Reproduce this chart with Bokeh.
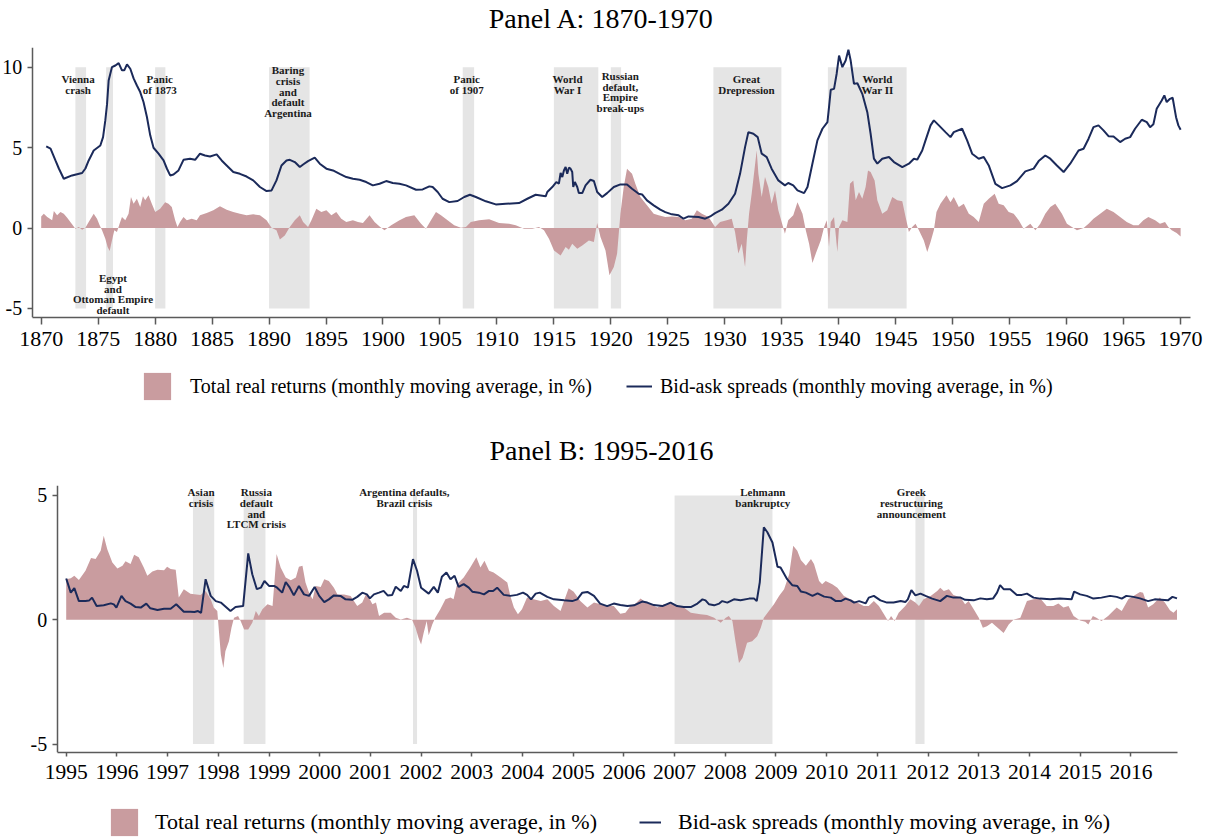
from bokeh.plotting import figure
from bokeh.models import Range1d, FixedTicker, Legend, LegendItem, Label
from bokeh.layouts import column
from bokeh.embed import file_html
from bokeh.resources import INLINE

# ---------------- DATA ----------------
# Panel A: 1870-1970
a_spread_year = [
    1870.44, 1870.82, 1871.25, 1871.55, 1871.98, 1872.71, 1873.59, 1873.88, 1874.17, 1874.61,
    1875.19, 1875.43, 1875.63, 1875.78, 1875.92, 1876.21, 1876.51, 1876.80, 1877.09, 1877.29,
    1877.53, 1877.82, 1878.11, 1878.40, 1878.69, 1878.98, 1879.28, 1879.57, 1879.86, 1880.30,
    1880.74, 1881.03, 1881.32, 1881.61, 1882.05, 1882.49, 1883.07, 1883.51, 1883.94, 1884.38,
    1884.82, 1885.40, 1885.84, 1886.28, 1886.86, 1887.44, 1888.03, 1888.61, 1889.20, 1889.78,
    1890.22, 1890.65, 1891.09, 1891.53, 1891.82, 1892.26, 1892.70, 1892.99, 1893.42, 1894.01,
    1894.45, 1895.03, 1895.61, 1896.20, 1896.78, 1897.36, 1897.95, 1898.53, 1899.11, 1899.70,
    1900.28, 1900.86, 1901.44, 1902.02, 1902.90, 1903.48, 1904.07, 1904.36, 1904.80, 1905.23,
    1905.82, 1906.55, 1907.13, 1907.63, 1908.15, 1909.03, 1909.90, 1910.78, 1911.94, 1912.67,
    1913.40, 1914.28, 1914.42, 1914.86, 1915.21, 1915.44, 1915.59, 1915.74, 1915.88, 1916.03,
    1916.17, 1916.32, 1916.46, 1916.61, 1916.70, 1916.84, 1917.05, 1917.19, 1917.49, 1917.78,
    1918.21, 1918.51, 1918.80, 1919.24, 1919.67, 1920.26, 1920.84, 1921.42, 1921.86, 1922.44,
    1922.74, 1923.17, 1923.76, 1924.34, 1924.78, 1925.36, 1925.95, 1926.38, 1926.82, 1927.70,
    1928.28, 1928.72, 1929.15, 1929.74, 1930.32, 1930.90, 1931.34, 1931.78, 1932.07, 1932.51,
    1932.89, 1933.24, 1933.68, 1934.11, 1934.70, 1935.28, 1935.57, 1936.01, 1936.38, 1936.96,
    1937.26, 1937.69, 1938.13, 1938.57, 1939.01, 1939.15, 1939.30, 1939.59, 1939.82, 1940.03,
    1940.32, 1940.61, 1940.85, 1941.05, 1941.34, 1941.64, 1942.07, 1942.51, 1942.80, 1943.09,
    1943.39, 1943.82, 1944.41, 1944.85, 1945.58, 1946.16, 1946.60, 1946.89, 1947.33, 1947.62,
    1948.06, 1948.35, 1948.79, 1949.37, 1949.81, 1950.10, 1950.83, 1951.27, 1951.71, 1952.29,
    1952.73, 1953.17, 1953.75, 1954.34, 1955.07, 1955.65, 1956.38, 1957.11, 1957.55, 1958.13,
    1958.57, 1959.15, 1959.74, 1960.32, 1961.05, 1961.49, 1961.93, 1962.36, 1962.80, 1963.24,
    1963.68, 1964.12, 1964.70, 1965.14, 1965.58, 1966.01, 1966.60, 1967.04, 1967.33, 1967.62,
    1967.91, 1968.35, 1968.58, 1968.79, 1969.08, 1969.31, 1969.61, 1969.81, 1970.01]
a_spread = [
    5.07, 4.93, 4.2, 3.7, 3.06, 3.27, 3.42, 3.7, 4.2, 4.82,
    5.13, 5.65, 6.7, 7.7, 9.17, 10.0, 10.1, 10.25, 9.8, 9.8,
    10.17, 9.9, 9.3, 8.86, 8.45, 7.83, 6.9, 5.76, 4.99, 4.62,
    4.2, 3.7, 3.27, 3.33, 3.58, 4.24, 4.31, 4.24, 4.62, 4.51,
    4.45, 4.58, 4.2, 3.89, 3.48, 3.37, 3.2, 2.96, 2.55, 2.3,
    2.34, 2.96, 3.89, 4.2, 4.24, 4.1, 3.79, 3.95, 4.16, 4.37,
    4.0, 3.69, 3.58, 3.37, 3.17, 3.06, 3.0, 2.86, 2.65, 2.75,
    2.92, 2.8, 2.75, 2.65, 2.38, 2.4, 2.59, 2.55, 2.24, 1.82,
    1.61, 1.68, 1.93, 2.07, 1.93, 1.66, 1.47, 1.51, 1.55, 1.82,
    2.07, 1.97, 2.24, 2.55, 2.86, 2.76, 3.42, 3.17, 3.58, 3.79,
    3.37, 3.75, 3.69, 3.48, 2.55, 2.86, 2.55, 2.17, 2.17, 2.65,
    3.0, 2.92, 2.24, 1.93, 2.17, 2.55, 2.71, 2.71, 2.44, 2.13,
    2.09, 1.72, 1.41, 1.14, 0.99, 0.85, 0.79, 0.58, 0.72, 0.68,
    0.58, 0.72, 0.93, 1.14, 1.51, 2.13, 3.37, 5.03, 5.96, 5.86,
    5.65, 4.62, 4.41, 3.69, 2.96, 2.65, 2.8, 2.65, 2.34, 2.17,
    2.55, 4.0, 5.45, 6.17, 6.58, 7.52, 8.59, 8.65, 9.59, 10.72,
    10.0, 10.41, 11.08, 10.41, 8.96, 9.0, 8.34, 7.2, 5.86, 4.31,
    4.0, 4.31, 4.41, 4.1, 3.79, 4.0, 4.31, 4.25, 4.82, 5.45,
    6.38, 6.69, 6.38, 5.96, 5.65, 5.96, 6.17, 5.45, 4.62, 4.31,
    4.41, 3.89, 2.75, 2.48, 2.65, 2.92, 3.52, 3.69, 4.16, 4.51,
    4.31, 3.89, 3.48, 4.0, 4.82, 4.93, 5.55, 6.27, 6.38, 6.07,
    5.71, 5.69, 5.34, 5.55, 5.65, 6.17, 6.73, 6.58, 6.27, 6.45,
    7.41, 7.93, 8.24, 7.83, 8.03, 8.1, 6.89, 6.38, 6.11]

a_ret_year = [
    1870.00, 1870.23, 1870.53, 1870.96, 1871.11, 1871.40, 1871.69, 1871.98, 1872.28, 1872.71,
    1873.00, 1873.30, 1873.59, 1873.88, 1874.17, 1874.61, 1874.90, 1875.13, 1875.34, 1875.63,
    1875.83, 1876.01, 1876.21, 1876.42, 1876.65, 1876.88, 1877.09, 1877.38, 1877.67, 1877.88,
    1878.11, 1878.40, 1878.69, 1878.93, 1879.13, 1879.42, 1879.71, 1880.01, 1880.44, 1880.88,
    1881.17, 1881.46, 1881.76, 1881.96, 1882.19, 1882.49, 1882.78, 1883.21, 1883.65, 1883.94,
    1884.53, 1885.11, 1885.69, 1886.28, 1886.86, 1887.44, 1888.03, 1888.61, 1889.20, 1889.78,
    1890.22, 1890.65, 1890.95, 1891.38, 1891.82, 1892.26, 1892.70, 1892.99, 1893.42, 1893.72,
    1894.15, 1894.59, 1895.03, 1895.47, 1895.90, 1896.34, 1896.78, 1897.36, 1897.80, 1898.24,
    1898.82, 1899.26, 1899.70, 1900.13, 1900.72, 1901.45, 1902.02, 1902.75, 1903.34, 1903.77,
    1904.21, 1904.65, 1905.09, 1905.67, 1906.25, 1906.84, 1907.28, 1907.71, 1908.44, 1909.32,
    1910.19, 1911.07, 1911.65, 1912.38, 1913.11, 1913.69, 1914.13, 1914.57, 1915.01, 1915.59,
    1916.03, 1916.32, 1916.61, 1917.05, 1917.49, 1918.07, 1918.51, 1918.80, 1919.09, 1919.53,
    1919.88, 1920.26, 1920.55, 1920.84, 1921.13, 1921.42, 1921.86, 1922.15, 1922.59, 1923.17,
    1923.76, 1924.19, 1924.78, 1925.36, 1925.95, 1926.53, 1927.11, 1927.55, 1927.99, 1928.57,
    1929.15, 1929.59, 1930.17, 1930.61, 1930.90, 1931.19, 1931.49, 1931.78, 1931.93, 1932.13,
    1932.36, 1932.80, 1932.95, 1933.24, 1933.53, 1933.82, 1934.11, 1934.41, 1934.70, 1934.99,
    1935.28, 1935.57, 1936.01, 1936.38, 1936.82, 1937.11, 1937.40, 1937.69, 1937.99, 1938.42,
    1938.72, 1938.95, 1939.15, 1939.30, 1939.59, 1939.88, 1940.03, 1940.32, 1940.76, 1940.99,
    1941.28, 1941.49, 1941.78, 1942.07, 1942.36, 1942.57, 1942.80, 1943.15, 1943.39, 1943.82,
    1944.26, 1944.70, 1945.14, 1945.58, 1945.87, 1946.16, 1946.45, 1946.74, 1947.04, 1947.47,
    1947.77, 1948.06, 1948.35, 1948.58, 1948.93, 1949.46, 1949.81, 1950.10, 1950.54, 1950.98,
    1951.42, 1951.85, 1952.29, 1952.73, 1953.17, 1953.69, 1954.04, 1954.48, 1954.92, 1955.36,
    1955.80, 1956.23, 1956.82, 1957.26, 1957.69, 1958.13, 1958.57, 1959.01, 1959.59, 1960.03,
    1960.47, 1960.91, 1961.49, 1961.93, 1962.36, 1962.95, 1963.53, 1964.12, 1964.70, 1965.28,
    1965.87, 1966.31, 1966.74, 1967.18, 1967.77, 1968.20, 1968.64, 1968.93, 1969.23, 1969.66,
    1970.01]
a_ret = [
    0.72, 0.89, 0.68, 0.48, 1.06, 0.79, 0.99, 0.89, 0.64, 0.23,
    -0.04, 0.06, -0.1, 0.02, 0.37, 0.89, 0.58, 0.17, -0.14, -0.66,
    -1.18, -1.43, -0.77, -0.14, -0.25, 0.27, 0.68, 0.48, 0.89, 1.93,
    1.51, 1.82, 1.3, 1.97, 1.72, 2.03, 1.51, 0.99, 1.2, 1.61,
    1.51, 1.3, 0.48, 0.06, 0.37, 0.68, 0.48, 0.58, 0.48, 0.79,
    0.93, 1.1, 1.35, 1.14, 0.99, 0.89, 0.79, 0.85, 0.79, 0.48,
    0.02, -0.14, -0.72, -0.46, 0.06, 0.48, 0.79, 0.37, 0.06, 0.48,
    1.2, 0.99, 1.1, 0.79, 0.99, 0.58, 0.37, 0.48, 0.37, 0.31,
    0.79, 0.37, 0.1, -0.14, 0.17, 0.48, 0.68, 0.79, 0.27, -0.04,
    0.48, 0.99, 0.79, 0.48, 0.17, 0.02, 0.06, 0.37, 0.48, 0.54,
    0.31, 0.27, 0.17, -0.04, -0.04, 0.06, -0.14, -0.66, -1.39, -1.7,
    -1.18, -1.35, -0.97, -1.28, -1.08, -0.77, -0.87, 0.31, -0.56, -1.39,
    -2.94, -2.42, -1.59, 0.89, 2.55, 3.69, 3.37, 2.75, 1.93, 1.41,
    0.89, 0.79, 0.68, 0.72, 0.68, 0.48, 0.58, 1.1, 0.89, 0.68,
    0.06, 0.37, 0.48, 0.58, -0.25, -1.59, -0.97, -2.42, -0.77, 0.89,
    2.13, 4.82, 3.37, 1.93, 3.17, 2.55, 1.51, 2.34, 1.1, 0.37,
    -0.35, 0.48, 0.79, 1.61, 0.89, -0.14, -0.97, -2.17, -1.59, -0.77,
    0.06, 0.48, -1.18, 0.37, 0.68, -1.49, 0.06, 0.48, 0.37, 2.75,
    2.96, 1.72, 2.24, 1.82, 2.55, 3.58, 3.48, 2.96, 1.72, 0.89,
    1.1, 1.93, 1.72, 1.66, 0.68, -0.25, 0.06, 0.27, -0.14, -0.77,
    -1.49, -0.87, -0.14, 0.99, 1.51, 2.03, 1.61, 1.93, 1.3, 1.51,
    0.89, 0.68, 0.37, 1.51, 1.82, 2.13, 1.51, 1.41, 0.99, 0.89,
    0.48, -0.04, 0.27, -0.14, 0.27, 0.89, 1.3, 1.51, 0.89, 0.27,
    0.06, -0.14, 0.0, 0.27, 0.58, 0.89, 1.2, 0.99, 0.68, 0.37,
    0.17, 0.17, 0.48, 0.68, 0.48, 0.27, 0.37, 0.06, -0.14, -0.31,
    -0.52]

a_crisis_start = [1873.0, 1875.7, 1880.0, 1890.0, 1907.0, 1915.0, 1920.0, 1929.0, 1939.05]
a_crisis_end = [1873.94, 1876.3, 1880.9, 1893.56, 1908.0, 1918.9, 1920.9, 1934.97, 1945.96]
a_crisis_label = ["Vienna\ncrash", "Egypt\nand\nOttoman Empire\ndefault", "Panic\nof 1873",
                  "Baring\ncrisis\nand\ndefault\nArgentina", "Panic\nof 1907", "World\nWar I",
                  "Russian\ndefault,\nEmpire\nbreak-ups", "Great\nDrepression", "World\nWar II"]
a_label_x = [1873.24, 1876.3, 1880.4, 1891.66, 1907.35, 1916.2, 1920.83, 1931.9, 1943.4]
a_label_y = [9.62, -2.74, 9.62, 10.18, 9.62, 9.62, 9.83, 9.62, 9.62]
a_yticks = [-5, 0, 5, 10]
a_xticks = list(range(1870, 1971, 5))

# Panel B: 1995-2016
b_spread_year = [
    1995.00, 1995.09, 1995.16, 1995.25, 1995.38, 1995.45, 1995.51, 1995.60, 1995.74, 1995.88,
    1995.94, 1995.99, 1996.09, 1996.17, 1996.27, 1996.37, 1996.47, 1996.58, 1996.66, 1996.80,
    1996.93, 1997.06, 1997.17, 1997.32, 1997.45, 1997.53, 1997.60, 1997.66, 1997.75, 1997.85,
    1997.95, 1998.05, 1998.24, 1998.34, 1998.49, 1998.59, 1998.67, 1998.76, 1998.84, 1998.91,
    1999.00, 1999.10, 1999.16, 1999.26, 1999.33, 1999.41, 1999.49, 1999.59, 1999.69, 1999.79,
    1999.90, 1999.99, 2000.09, 2000.18, 2000.28, 2000.41, 2000.51, 2000.64, 2000.74, 2000.84,
    2000.93, 2000.99, 2001.07, 2001.17, 2001.26, 2001.34, 2001.43, 2001.50, 2001.60, 2001.66,
    2001.74, 2001.84, 2001.92, 2002.00, 2002.15, 2002.25, 2002.33, 2002.41, 2002.50, 2002.58,
    2002.66, 2002.74, 2002.84, 2002.94, 2003.01, 2003.14, 2003.24, 2003.34, 2003.42, 2003.50,
    2003.63, 2003.76, 2003.89, 2004.01, 2004.09, 2004.17, 2004.26, 2004.34, 2004.49, 2004.62,
    2004.82, 2004.98, 2005.08, 2005.18, 2005.28, 2005.41, 2005.53, 2005.67, 2005.80, 2005.93,
    2006.07, 2006.20, 2006.36, 2006.46, 2006.59, 2006.76, 2006.92, 2007.05, 2007.18, 2007.32,
    2007.45, 2007.55, 2007.61, 2007.68, 2007.78, 2007.88, 2007.94, 2008.04, 2008.17, 2008.30,
    2008.47, 2008.57, 2008.62, 2008.68, 2008.76, 2008.83, 2008.93, 2009.03, 2009.09, 2009.22,
    2009.32, 2009.42, 2009.49, 2009.59, 2009.72, 2009.82, 2009.95, 2010.08, 2010.18, 2010.28,
    2010.37, 2010.47, 2010.54, 2010.64, 2010.77, 2010.83, 2010.93, 2011.06, 2011.19, 2011.32,
    2011.46, 2011.55, 2011.60, 2011.67, 2011.75, 2011.85, 2011.95, 2012.08, 2012.24, 2012.37,
    2012.50, 2012.64, 2012.73, 2012.90, 2013.03, 2013.16, 2013.28, 2013.36, 2013.42, 2013.49,
    2013.62, 2013.75, 2013.85, 2013.95, 2014.08, 2014.21, 2014.41, 2014.60, 2014.83, 2014.88,
    2015.00, 2015.13, 2015.26, 2015.42, 2015.59, 2015.72, 2015.82, 2015.91, 2016.05, 2016.18,
    2016.34, 2016.47, 2016.60, 2016.73, 2016.82, 2016.91]
b_spread = [
    1.66, 1.09, 1.27, 0.75, 0.75, 0.77, 0.89, 0.55, 0.58, 0.66,
    0.62, 0.49, 0.96, 0.75, 0.65, 0.51, 0.49, 0.65, 0.46, 0.39,
    0.44, 0.44, 0.62, 0.32, 0.32, 0.31, 0.35, 0.28, 1.63, 0.96,
    0.75, 0.69, 0.35, 0.51, 0.55, 2.67, 1.83, 1.23, 1.29, 1.56,
    1.36, 1.36, 1.29, 1.09, 1.52, 1.29, 0.98, 1.36, 1.02, 0.96,
    1.32, 0.96, 0.71, 0.82, 0.98, 0.96, 0.82, 0.8, 0.92, 1.09,
    1.02, 0.86, 1.02, 1.09, 1.16, 0.98, 1.0, 1.33, 1.16, 1.36,
    1.29, 2.44, 1.97, 1.29, 1.05, 1.32, 1.09, 1.73, 1.9, 1.63,
    1.77, 1.32, 1.43, 1.29, 1.13, 1.09, 1.02, 1.16, 1.16, 1.29,
    1.0, 0.96, 1.0, 1.09, 1.0, 0.82, 1.05, 1.09, 0.92, 0.82,
    0.78, 0.75, 0.82, 1.09, 1.12, 0.96, 0.65, 0.55, 0.65, 0.59,
    0.55, 0.58, 0.73, 0.69, 0.59, 0.55, 0.69, 0.55, 0.51, 0.51,
    0.65, 0.82, 0.78, 0.62, 0.58, 0.65, 0.75, 0.69, 0.82, 0.78,
    0.85, 0.85, 0.75, 1.5, 3.72, 3.52, 3.11, 2.13, 2.1, 1.63,
    1.39, 1.36, 1.14, 1.09, 0.96, 1.06, 0.93, 0.89, 0.75, 0.75,
    0.85, 0.78, 0.69, 0.75, 0.66, 0.89, 0.96, 0.78, 0.69, 0.69,
    0.75, 0.71, 0.82, 1.19, 0.98, 1.05, 0.96, 0.85, 0.75, 0.96,
    0.89, 0.89, 0.8, 0.78, 0.86, 0.82, 0.85, 1.09, 1.39, 1.23,
    1.23, 1.0, 1.0, 1.05, 0.89, 0.85, 0.82, 0.85, 0.82, 1.13,
    1.02, 0.96, 0.85, 0.89, 0.96, 0.92, 0.85, 0.96, 0.92, 0.86,
    0.75, 0.82, 0.8, 0.78, 0.92, 0.86]

b_ret_year = [
    1995.00, 1995.09, 1995.16, 1995.25, 1995.38, 1995.49, 1995.58, 1995.68, 1995.74, 1995.81,
    1995.91, 1996.01, 1996.11, 1996.17, 1996.27, 1996.34, 1996.43, 1996.53, 1996.60, 1996.70,
    1996.80, 1996.93, 1996.99, 1997.06, 1997.16, 1997.22, 1997.32, 1997.45, 1997.65, 1997.75,
    1997.85, 1997.91, 1997.98, 1998.05, 1998.10, 1998.14, 1998.21, 1998.26, 1998.31, 1998.39,
    1998.44, 1998.51, 1998.59, 1998.67, 1998.74, 1998.80, 1998.87, 1998.97, 1999.07, 1999.15,
    1999.23, 1999.33, 1999.43, 1999.53, 1999.59, 1999.66, 1999.72, 1999.79, 1999.86, 1999.92,
    2000.02, 2000.09, 2000.18, 2000.28, 2000.35, 2000.48, 2000.61, 2000.74, 2000.84, 2000.91,
    2000.97, 2001.04, 2001.11, 2001.17, 2001.27, 2001.40, 2001.50, 2001.60, 2001.72, 2001.82,
    2001.89, 2001.95, 2002.00, 2002.05, 2002.11, 2002.15, 2002.22, 2002.28, 2002.38, 2002.48,
    2002.58, 2002.64, 2002.71, 2002.84, 2002.97, 2003.09, 2003.17, 2003.25, 2003.34, 2003.43,
    2003.57, 2003.70, 2003.76, 2003.83, 2003.91, 2003.99, 2004.09, 2004.22, 2004.36, 2004.49,
    2004.62, 2004.75, 2004.82, 2004.91, 2005.01, 2005.14, 2005.28, 2005.41, 2005.54, 2005.67,
    2005.80, 2005.93, 2006.03, 2006.13, 2006.23, 2006.33, 2006.43, 2006.53, 2006.66, 2006.79,
    2006.92, 2007.05, 2007.18, 2007.32, 2007.51, 2007.64, 2007.78, 2007.91, 2008.01, 2008.07,
    2008.14, 2008.20, 2008.27, 2008.34, 2008.43, 2008.53, 2008.63, 2008.70, 2008.76, 2008.86,
    2008.96, 2009.06, 2009.16, 2009.26, 2009.34, 2009.42, 2009.49, 2009.59, 2009.69, 2009.75,
    2009.85, 2009.91, 2009.98, 2010.11, 2010.21, 2010.34, 2010.47, 2010.60, 2010.73, 2010.83,
    2010.93, 2011.03, 2011.13, 2011.21, 2011.27, 2011.34, 2011.42, 2011.55, 2011.65, 2011.75,
    2011.82, 2011.91, 2012.05, 2012.18, 2012.24, 2012.31, 2012.41, 2012.50, 2012.64, 2012.73,
    2012.80, 2012.90, 2013.00, 2013.08, 2013.16, 2013.26, 2013.36, 2013.49, 2013.59, 2013.69,
    2013.82, 2013.95, 2014.08, 2014.21, 2014.34, 2014.47, 2014.57, 2014.67, 2014.77, 2014.87,
    2015.00, 2015.10, 2015.16, 2015.25, 2015.32, 2015.42, 2015.55, 2015.72, 2015.82, 2015.95,
    2016.05, 2016.18, 2016.24, 2016.34, 2016.44, 2016.57, 2016.67, 2016.77, 2016.84, 2016.91]
b_ret = [
    1.63, 1.67, 1.77, 1.6, 1.97, 2.48, 2.44, 2.78, 3.38, 2.84,
    2.3, 2.06, 2.17, 2.35, 2.24, 2.61, 2.51, 2.1, 1.77, 1.94,
    2.01, 1.99, 2.13, 2.04, 2.01, 0.89, 1.23, 1.05, 1.0, 1.16,
    0.82, 0.49, 0.35, -1.4, -1.94, -1.27, -0.86, -0.32, 0.08, 0.15,
    -0.05, -0.39, -0.39, -0.12, 0.35, 0.15, 0.42, 0.62, 0.55, 2.64,
    2.1, 1.7, 1.59, 1.7, 2.13, 2.17, 1.5, 1.09, 0.82, 1.36,
    1.32, 1.63, 1.56, 1.29, 1.02, 1.02, 0.96, 0.55, 0.69, 1.02,
    0.89, 0.62, 0.69, 0.15, 0.28, 0.28, 0.08, 0.01, 0.08, 0.01,
    -0.32, -0.73, -1.0, -0.53, -0.05, -0.62, -0.19, 0.08, 0.42, 0.82,
    0.89, 0.82, 1.43, 1.7, 2.1, 2.51, 2.1, 2.37, 1.97, 1.9,
    1.7, 1.5, 0.96, 0.49, 0.22, 0.42, 0.89, 0.82, 0.75, 0.82,
    0.55, 0.35, 0.75, 1.27, 1.13, 0.75, 0.49, 0.69, 0.62, 0.55,
    0.55, 0.24, 0.28, 0.55, 0.65, 0.85, 0.69, 0.62, 0.49, 0.62,
    0.65, 0.55, 0.49, 0.28, 0.22, 0.19, 0.08, -0.12, 0.08, 0.15,
    -0.05, -0.86, -1.74, -1.54, -0.93, -0.86, -0.66, -0.32, 0.08, 0.35,
    0.62, 0.96, 1.23, 1.83, 2.98, 2.78, 2.4, 2.17, 2.44, 2.24,
    1.56, 1.43, 1.56, 1.43, 1.29, 0.96, 0.82, 0.69, 0.55, 0.55,
    0.75, 0.55, 0.22, -0.05, 0.15, -0.05, 0.28, 0.55, 0.82, 0.69,
    0.55, 0.82, 0.96, 1.16, 1.29, 1.16, 1.23, 1.0, 0.89, 0.62,
    0.75, 0.42, 0.08, -0.32, -0.26, -0.12, -0.3, -0.53, -0.19, 0.01,
    0.08, 0.75, 0.82, 0.86, 0.55, 0.55, 0.65, 0.49, 0.55, 0.15,
    -0.03, -0.08, -0.19, 0.15, 0.08, -0.05, 0.15, 0.49, 0.35, 0.82,
    0.96, 1.12, 1.09, 0.49, 0.62, 0.89, 0.69, 0.38, 0.28, 0.42]

b_crisis_start = [1997.5, 1998.5, 2001.84, 2007.0, 2011.75]
b_crisis_end = [1997.92, 1998.93, 2001.92, 2008.93, 2011.93]
b_crisis_label = ["Asian\ncrisis", "Russia\ndefault\nand\nLTCM crisis",
                  "Argentina defaults,\nBrazil crisis", "Lehmann\nbankruptcy",
                  "Greek\nrestructuring\nannouncement"]
b_label_x = [1997.66, 1998.75, 2001.67, 2008.74, 2011.67]
b_label_y = [5.37, 5.37, 5.37, 5.37, 5.37]
b_yticks = [-5, 0, 5]
b_xticks = list(range(1995, 2017))

RET_LABEL = "Total real returns (monthly moving average, in %)"
SPR_LABEL = "Bid-ask spreads (monthly moving average, in %)"

# ---------------- STYLE ----------------
FONT = "Liberation Serif"
ROSE = "#c99c9f"
NAVY = "#1b2a5a"
SHADE = "#e5e5e5"
AXIS = "#5a5a5a"
W = 1204

# visible x extent and axis extent (data units) for each panel
A_X_VIEW = (1866.428, 1972.106)
A_AXIS_X = (1869.21, 1970.88)
B_X_VIEW = (1993.704, 2017.452)
B_AXIS_X = (1994.822, 2016.927)


def style(p, xticks, yticks, xsize, ysize, ystand, xtick, xstand, axis_x):
    p.grid.visible = False
    p.outline_line_color = None
    for ax in (p.xaxis[0], p.yaxis[0]):
        ax.axis_label = None
        ax.axis_line_color = AXIS
        ax.axis_line_width = 1.5
        ax.major_tick_line_color = AXIS
        ax.major_tick_line_width = 1.5
        ax.major_tick_out = 5
        ax.major_tick_in = 0
        ax.minor_tick_line_color = None
        ax.major_label_text_font = FONT
        ax.major_label_text_color = "black"
    p.xaxis[0].ticker = FixedTicker(ticks=xticks)
    p.yaxis[0].ticker = FixedTicker(ticks=yticks)
    p.yaxis[0].major_label_overrides = {t: str(t) for t in yticks}
    p.xaxis[0].major_label_text_font_size = xsize
    p.yaxis[0].major_label_text_font_size = ysize
    p.xaxis[0].major_tick_out = xtick
    p.xaxis[0].major_label_standoff = xstand
    p.yaxis[0].major_label_standoff = ystand
    p.xaxis[0].bounds = axis_x
    p.yaxis[0].fixed_location = axis_x[0]


def add_labels(p, texts, xs, ys):
    for t, x, y in zip(texts, xs, ys):
        p.add_layout(Label(x=x, y=y, text=t, text_align="center", text_baseline="top",
                           text_font=FONT, text_font_size="11px", text_font_style="bold",
                           text_color="#1a1a1a", text_line_height=0.89))


def blank(h):
    f = figure(width=W, height=h, title=None, x_range=Range1d(0, 1), y_range=Range1d(0, 1),
               x_axis_type=None, y_axis_type=None, output_backend="svg",
               toolbar_location=None, min_border=0, min_border_left=0, min_border_right=0,
               min_border_top=0, min_border_bottom=0)
    f.outline_line_color = None
    return f


def title_fig(text, h, x_screen, y_from_bottom):
    f = blank(h)
    f.add_layout(Label(x=x_screen, y=y_from_bottom, x_units="screen", y_units="screen",
                       text=text, text_align="center", text_baseline="middle",
                       text_font=FONT, text_font_size="28px", text_color="black"))
    return f


def legend_fig(h, ret_x, ret_y, spr_x, spr_y, font_size, loc1, loc2, stand1, stand2, gw2):
    f = blank(h)
    ra = f.varea(x=ret_x, y1=0, y2=ret_y, fill_color=ROSE, visible=False)
    rl = f.line(spr_x, spr_y, line_color=NAVY, line_width=2, visible=False)
    common = dict(padding=0, margin=0, border_line_color=None, background_fill_alpha=0,
                  label_text_font=FONT, label_text_font_size=font_size,
                  label_text_color="black", glyph_height=34, click_policy="none")
    f.add_layout(Legend(items=[LegendItem(label=RET_LABEL, renderers=[ra])], location=loc1,
                        glyph_width=34, label_standoff=stand1, **common))
    f.add_layout(Legend(items=[LegendItem(label=SPR_LABEL, renderers=[rl])], location=loc2,
                        glyph_width=gw2, label_standoff=stand2, **common))
    return f


# ---------------- PANEL A ----------------
tA = title_fig("Panel A: 1870-1970", 47, 601, 29)

pA = figure(frame_width=W, frame_height=270, title=None,
            x_range=Range1d(*A_X_VIEW), y_range=Range1d(-5.56, 11.22),
            output_backend="svg", toolbar_location=None,
            min_border_left=0, min_border_right=0, min_border_top=0, min_border_bottom=40)
style(pA, a_xticks, a_yticks, "22px", "20px", 5, 7, 7, A_AXIS_X)
pA.quad(left=a_crisis_start, right=a_crisis_end, bottom=-5, top=10,
        fill_color=SHADE, line_color=None)
pA.varea(x=a_ret_year, y1=0, y2=a_ret, fill_color=ROSE)
pA.line(a_spread_year, a_spread, line_color=NAVY, line_width=2)
add_labels(pA, a_crisis_label, a_label_x, a_label_y)

lA = legend_fig(55, a_ret_year, a_ret, a_spread_year, a_spread, "20px",
                (140, 9), (626, 9), 16, 8, 26)

# ---------------- PANEL B ----------------
tB = title_fig("Panel B: 1995-2016", 73, 601, 35)

pB = figure(frame_width=W, frame_height=267, title=None,
            x_range=Range1d(*B_X_VIEW), y_range=Range1d(-5.34, 5.40),
            output_backend="svg", toolbar_location=None,
            min_border_left=0, min_border_right=0, min_border_top=0, min_border_bottom=40)
style(pB, b_xticks, b_yticks, "21.5px", "20px", 5, 4, 8, B_AXIS_X)
pB.quad(left=b_crisis_start, right=b_crisis_end, bottom=-5, top=5,
        fill_color=SHADE, line_color=None)
pB.varea(x=b_ret_year, y1=0, y2=b_ret, fill_color=ROSE)
pB.line(b_spread_year, b_spread, line_color=NAVY, line_width=2)
add_labels(pB, b_crisis_label, b_label_x, b_label_y)

lB = legend_fig(45, b_ret_year, b_ret, b_spread_year, b_spread, "22px",
                (107, -2), (639, -2), 14, 17, 22)

layout = column(tA, pA, lA, tB, pB, lB, spacing=0)
open("out.html", "w").write(file_html(layout, INLINE))
